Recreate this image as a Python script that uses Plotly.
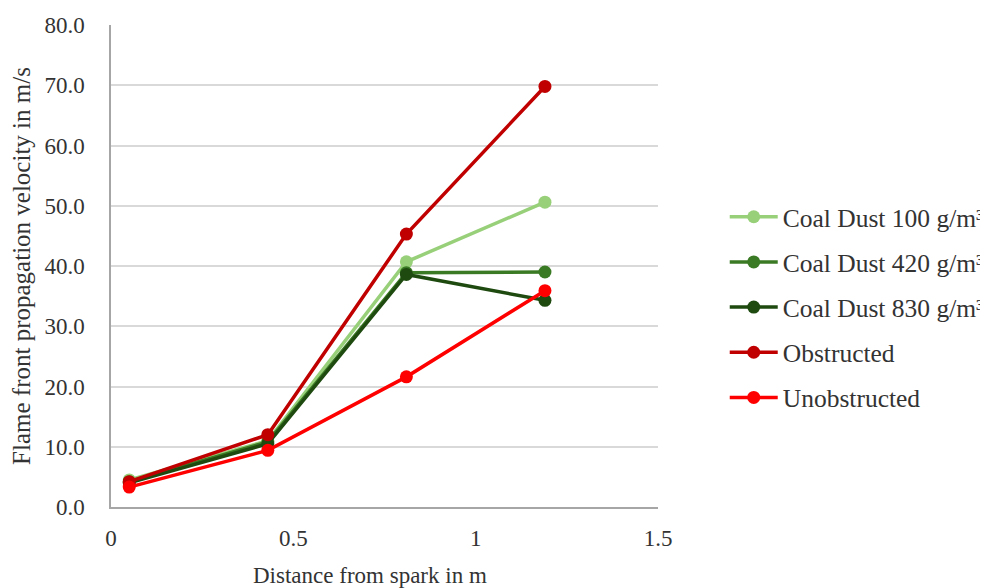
import plotly.graph_objects as go

x_vals = [0.05, 0.43, 0.81, 1.19]
coal_100 = [4.5, 11.0, 40.7, 50.6]
coal_420 = [4.2, 10.8, 38.9, 39.0]
coal_830 = [4.0, 10.5, 38.6, 34.3]
obstructed = [4.2, 12.0, 45.3, 69.8]
unobstructed = [3.3, 9.4, 21.6, 35.9]

series = [
    ("Coal Dust 100 g/m³", coal_100, "#98D07A"),
    ("Coal Dust 420 g/m³", coal_420, "#3B7A24"),
    ("Coal Dust 830 g/m³", coal_830, "#1E4A10"),
    ("Obstructed", obstructed, "#C00000"),
    ("Unobstructed", unobstructed, "#FF0000"),
]

fig = go.Figure()
for i, (name, ys, col) in enumerate(series):
    fig.add_trace(go.Scatter(x=x_vals, y=ys, name=name, mode="lines+markers",
                             legendgroup=f"g{i}",
                             line=dict(color=col, width=3.5),
                             marker=dict(color=col, size=13)))

serif = "Liberation Serif, Times New Roman, serif"
fig.update_layout(
    width=988, height=588,
    margin=dict(l=103, r=338, t=17, b=89, autoexpand=False),
    paper_bgcolor="white", plot_bgcolor="white",
    font=dict(family=serif, size=23, color="#333333"),
    showlegend=True,
    legend=dict(x=1.122, y=0.65, xanchor="left", yanchor="top",
                font=dict(family=serif, size=25.5, color="#333333"),
                tracegroupgap=9, itemwidth=48),
    xaxis=dict(range=[0, 1.5], tickvals=[0, 0.5, 1, 1.5], ticktext=["0", "0.5", "1", "1.5"],
               showgrid=False, zeroline=False, showline=True, linecolor="#A6A6A6", linewidth=1.5,
               ticks="", ticklabelstandoff=10, automargin=False,
               tickfont=dict(size=23, color="#333333")),
    yaxis=dict(range=[0, 80], dtick=10, tickformat=".1f",
               showgrid=True, gridcolor="#D9D9D9", gridwidth=1.5, zeroline=False,
               showline=True, linecolor="#A6A6A6", linewidth=1.5, ticks="",
               ticklabelstandoff=20, automargin=False,
               title=dict(text="Flame front propagation velocity in m/s", standoff=10,
                          font=dict(size=25, color="#333333")),
               tickfont=dict(size=23, color="#333333")),
    annotations=[dict(text="Distance from spark in m", xref="paper", yref="paper",
                      x=0.473, y=-0.143, xanchor="center", yanchor="middle",
                      showarrow=False, font=dict(family=serif, size=23, color="#333333"))],
)
fig.write_html("out.html")
